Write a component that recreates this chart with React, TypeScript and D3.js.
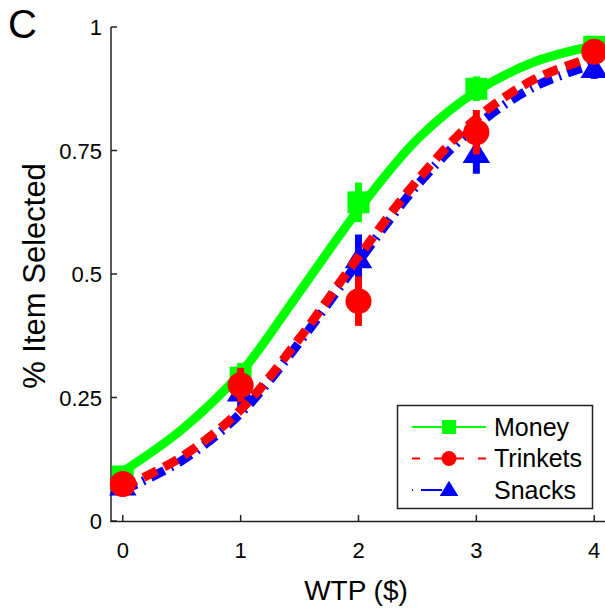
import React from "react"
import * as d3 from "d3"

// Data
const wtp = [0, 1, 2, 3, 4]
const money = [0.09, 0.29, 0.645, 0.875, 0.96]
const moneyErr = [0.02, 0.03, 0.04, 0.025, 0.015]
const trinkets = [0.075, 0.275, 0.445, 0.787, 0.95]
const trinketsErr = [0.02, 0.035, 0.05, 0.045, 0.02]
const snacks = [0.07, 0.26, 0.53, 0.743, 0.915]
const snacksErr = [0.02, 0.03, 0.05, 0.04, 0.02]

// fitted curves, every 0.5 $
const fitX = [0, 0.5, 1, 1.5, 2, 2.5, 3, 3.5, 4]
const moneyFit = [0.1, 0.185, 0.3, 0.464, 0.63, 0.773, 0.87, 0.93, 0.962]
const trinketsFit = [0.068, 0.13, 0.225, 0.37, 0.535, 0.69, 0.815, 0.895, 0.94]
const snacksFit = [0.062, 0.122, 0.218, 0.362, 0.525, 0.68, 0.8, 0.88, 0.925]

const xTicks = [0, 1, 2, 3, 4]
const yTicks = [0, 0.25, 0.5, 0.75, 1]
const yTickLabels = ["0", "0.25", "0.5", "0.75", "1"]
const seriesNames = ["Money", "Trinkets", "Snacks"]

const font = "'Liberation Sans', Arial, Helvetica, sans-serif"

export default function App() {
  const W = 605
  const H = 610
  const x = d3.scaleLinear().domain([-0.1, 4.1]).range([111, 606])
  const y = d3.scaleLinear().domain([0, 1]).range([521, 27])

  const line = d3
    .line<[number, number]>()
    .x(d => x(d[0]))
    .y(d => y(d[1]))
    .curve(d3.curveCatmullRom)

  const series = [
    { name: "Money", vals: money, err: moneyErr, fit: moneyFit, color: "#00ff00", dash: undefined, marker: "square", size: 22 },
    { name: "Snacks", vals: snacks, err: snacksErr, fit: snacksFit, color: "#0000ff", dash: "15 7 2 7", marker: "triangle", size: 25 },
    { name: "Trinkets", vals: trinkets, err: trinketsErr, fit: trinketsFit, color: "#ff0000", dash: "15 8", marker: "circle", size: 26 }
  ]

  const marker = (type: string, cx: number, cy: number, color: string, s: number) => {
    if (type === "square") return <rect x={cx - s / 2} y={cy - s / 2} width={s} height={s} fill={color} />
    if (type === "circle") return <circle cx={cx} cy={cy} r={s / 2} fill={color} />
    const h = s * 0.9
    return (
      <path
        d={`M${cx},${cy - h * 0.6}L${cx + s * 0.55},${cy + h * 0.4}L${cx - s * 0.55},${cy + h * 0.4}Z`}
        fill={color}
      />
    )
  }

  const legend = [
    { name: seriesNames[0], color: "#00ff00", dash: undefined, marker: "square", size: 14 },
    { name: seriesNames[1], color: "#ff0000", dash: "8 14", marker: "circle", size: 15 },
    { name: seriesNames[2], color: "#0000ff", dash: "1 8 21 100", marker: "triangle", size: 17 }
  ]

  return (
    <svg width={W} height={H} style={{ position: "absolute", left: 0, top: 0 }}>
      <rect width={W} height={H} fill="white" />
      <text x={8} y={38} fontSize={40} fontFamily={font}>C</text>

      {/* axes */}
      <g stroke="#222" strokeWidth={1.5} fill="none">
        <line x1={111} y1={y(1)} x2={111} y2={521.5} />
        <line x1={110.3} y1={521.5} x2={606} y2={521.5} />
        {yTicks.map(t => (
          <line key={`yt${t}`} x1={111} x2={117} y1={y(t)} y2={y(t)} />
        ))}
        {xTicks.map(t => (
          <line key={`xt${t}`} x1={x(t)} x2={x(t)} y1={521} y2={515} />
        ))}
      </g>
      {yTicks.map((t, i) => (
        <text key={`yl${t}`} x={102} y={y(t) + 8} fontSize={22} textAnchor="end" fontFamily={font}>
          {yTickLabels[i]}
        </text>
      ))}
      {xTicks.map(t => (
        <text key={`xl${t}`} x={x(t)} y={558} fontSize={22} textAnchor="middle" fontFamily={font}>
          {t}
        </text>
      ))}
      <text x={356} y={600} fontSize={28} textAnchor="middle" fontFamily={font}>WTP ($)</text>
      <text
        transform="translate(45,276) rotate(-90)"
        fontSize={31}
        textAnchor="middle"
        fontFamily={font}
      >
        % Item Selected
      </text>

      {/* series */}
      {series.map(s => (
        <g key={s.name}>
          <path
            d={line(fitX.map((v, i) => [v, s.fit[i]]) as [number, number][]) || ""}
            fill="none"
            stroke={s.color}
            strokeWidth={9}
            strokeDasharray={s.dash}
          />
          {wtp.map((v, i) => (
            <g key={`${s.name}-${v}`}>
              <line
                x1={x(v)}
                x2={x(v)}
                y1={y(s.vals[i] - s.err[i])}
                y2={y(s.vals[i] + s.err[i])}
                stroke={s.color}
                strokeWidth={7}
              />
              {marker(s.marker, x(v), y(s.vals[i]), s.color, s.size)}
            </g>
          ))}
        </g>
      ))}

      {/* legend */}
      <rect x={397.5} y={405.5} width={195} height={103} fill="white" stroke="#222" strokeWidth={1.5} />
      {legend.map((l, i) => {
        const ly = 427 + i * 31.5
        return (
          <g key={l.name}>
            <line x1={412} x2={486} y1={ly} y2={ly} stroke={l.color} strokeWidth={2} strokeDasharray={l.dash} />
            {marker(l.marker, 449, ly, l.color, l.size)}
            <text x={494} y={ly + 8.5} fontSize={25} fontFamily={font}>{l.name}</text>
          </g>
        )
      })}
    </svg>
  )
}
